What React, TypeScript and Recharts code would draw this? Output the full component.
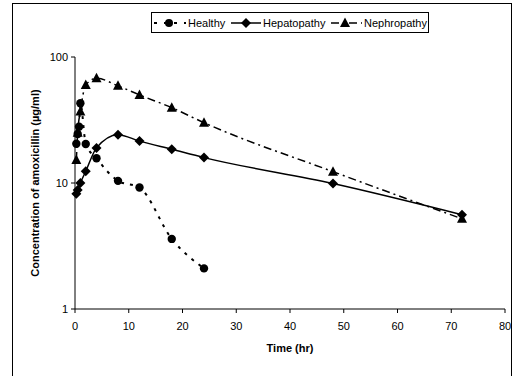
import React from 'react';
import { LineChart, Line, XAxis, YAxis } from 'recharts';

const healthyTimes = [0.25, 0.5, 0.75, 1, 2, 4, 8, 12, 18, 24];
const healthyValues = [20.5, 24.5, 28, 43, 20.4, 15.7, 10.4, 9.2, 3.6, 2.1];

const hepatoTimes = [0.25, 0.5, 1, 2, 4, 8, 12, 18, 24, 48, 72];
const hepatoValues = [8.2, 8.8, 10, 12.4, 19, 24.2, 21.5, 18.5, 15.9, 9.9, 5.6];

const nephroTimes = [0.25, 0.5, 1, 2, 4, 8, 12, 18, 24, 48, 72];
const nephroValues = [15.2, 25, 37, 60, 67.8, 59, 50, 39.6, 30.1, 12.3, 5.2];

const xTicks = [0, 10, 20, 30, 40, 50, 60, 70, 80];
const yTicks = [1, 10, 100];

const seriesNames = ['Healthy', 'Hepatopathy', 'Nephropathy'];

const toRows = (ts: number[], vs: number[]) => ts.map((t, i) => ({ t, v: vs[i] }));
const healthy = toRows(healthyTimes, healthyValues);
const hepato = toRows(hepatoTimes, hepatoValues);
const nephro = toRows(nephroTimes, nephroValues);

const FONT = '"Liberation Sans", Arial, sans-serif';

const CircleDot = (p: any) => {
  if (p.cx == null || p.cy == null) return null;
  return <circle key={p.key} cx={p.cx} cy={p.cy} r={4.2} fill="#000" stroke="none" />;
};
const DiamondDot = (p: any) => {
  if (p.cx == null || p.cy == null) return null;
  const { cx, cy } = p;
  return (
    <polygon key={p.key}
      points={`${cx},${cy - 5} ${cx + 5},${cy} ${cx},${cy + 5} ${cx - 5},${cy}`}
      fill="#000" stroke="none" />
  );
};
const TriDot = (p: any) => {
  if (p.cx == null || p.cy == null) return null;
  const { cx, cy } = p;
  return (
    <polygon key={p.key}
      points={`${cx},${cy - 5.5} ${cx + 5},${cy + 4} ${cx - 5},${cy + 4}`}
      fill="#000" stroke="none" />
  );
};

const LegendBox = () => (
  <div style={{
    position: 'absolute', left: 151, top: 12, width: 276, height: 19,
    border: '1px solid #000', background: '#fff', fontFamily: FONT, fontSize: 11,
  }}>
    <svg width={276} height={19} style={{ position: 'absolute', left: 0, top: 0 }}>
      {/* Healthy */}
      <line x1={2} y1={10} x2={34} y2={10} stroke="#000" strokeWidth={2} strokeDasharray="3 7" />
      <circle cx={17} cy={10} r={4} fill="#000" />
      <text x={36} y={14} fontSize={11} fontFamily={FONT}>{seriesNames[0]}</text>
      {/* Hepatopathy */}
      <line x1={79} y1={10} x2={109} y2={10} stroke="#000" strokeWidth={1.5} />
      <polygon points="94,5 99,10 94,15 89,10" fill="#000" />
      <text x={111} y={14} fontSize={11} fontFamily={FONT}>{seriesNames[1]}</text>
      {/* Nephropathy */}
      <line x1={179} y1={10} x2={210} y2={10} stroke="#000" strokeWidth={1.5} strokeDasharray="8 4 2 4" />
      <polygon points="193,4.5 198,14 188,14" fill="#000" />
      <text x={212} y={14} fontSize={11} fontFamily={FONT}>{seriesNames[2]}</text>
    </svg>
  </div>
);

export default function App() {
  return (
    <div style={{ position: 'absolute', left: 0, top: 0, width: 519, height: 376, background: '#fff', overflow: 'hidden' }}>
      <div style={{
        position: 'absolute', left: 12, top: 3, width: 500, height: 420,
        border: '1px solid #000', boxSizing: 'border-box',
      }} />
      <div style={{ position: 'absolute', left: 0, top: 0 }}>
        <LineChart width={519} height={376} margin={{ top: 57, right: 14, bottom: 22, left: 35 }}>
          <XAxis
            type="number" dataKey="t" domain={[0, 80]} ticks={xTicks} allowDuplicatedCategory={false}
            stroke="#000" tickSize={4} tickMargin={9} height={45}
            tick={{ fill: '#000', fontSize: 11, fontFamily: FONT }}
            tickLine={{ stroke: '#000' }}
            label={{ value: 'Time (hr)', position: 'insideBottom', offset: 2,
              style: { fontFamily: FONT, fontSize: 11, fontWeight: 'bold', fill: '#000' } }}
          />
          <YAxis
            type="number" scale="log" domain={[1, 100]} ticks={yTicks} allowDataOverflow
            stroke="#000" tickSize={4} tickMargin={3} width={40}
            tick={{ fill: '#000', fontSize: 11, fontFamily: FONT }}
            tickLine={{ stroke: '#000' }}
            label={{ value: 'Concentration of amoxicillin (µg/ml)', angle: -90, position: 'insideLeft', offset: 0,
              style: { fontFamily: FONT, fontSize: 11, fontWeight: 'bold', fill: '#000', textAnchor: 'middle' } }}
          />
          <Line data={healthy} dataKey="v" name={seriesNames[0]} type="monotone" stroke="#000" strokeWidth={2}
            strokeDasharray="3 6" dot={CircleDot} activeDot={false} isAnimationActive={false} />
          <Line data={hepato} dataKey="v" name={seriesNames[1]} type="monotone" stroke="#000" strokeWidth={1.5}
            dot={DiamondDot} activeDot={false} isAnimationActive={false} />
          <Line data={nephro} dataKey="v" name={seriesNames[2]} type="monotone" stroke="#000" strokeWidth={1.5}
            strokeDasharray="8 4 2 4" dot={TriDot} activeDot={false} isAnimationActive={false} />
        </LineChart>
      </div>
      <LegendBox />
    </div>
  );
}
